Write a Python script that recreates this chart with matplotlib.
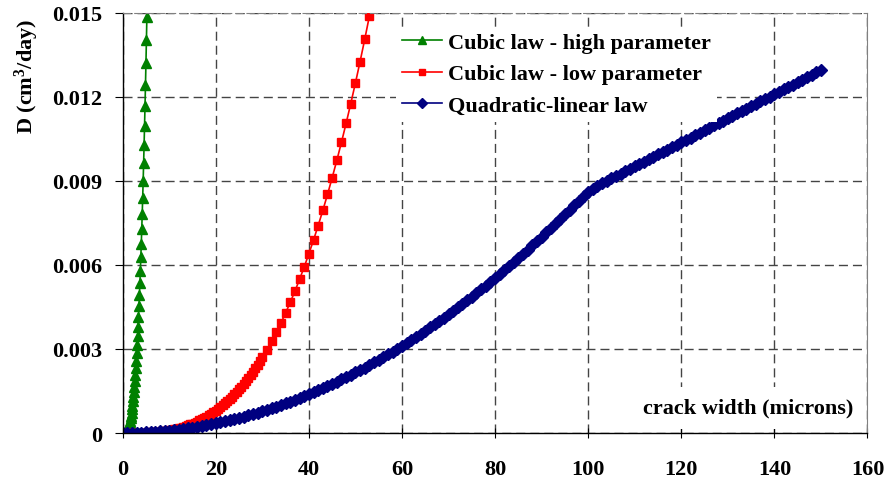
import matplotlib
matplotlib.use("Agg")
import matplotlib.pyplot as plt
import numpy as np

plt.rcParams['font.family'] = ['Liberation Serif', 'DejaVu Serif']
plt.rcParams['font.weight'] = 'bold'
plt.rcParams['font.size'] = 16

# D values below are in units of 1e-4 cm3/day
# cubic law, high parameter (crack width step 0.1 micron)
high_x = np.arange(0, 5.25, 0.1)
high_d = [0, 0.001, 0.008, 0.029, 0.068, 0.132, 0.228, 0.363, 0.541, 0.771,
          1.057, 1.407, 1.826, 2.322, 2.900, 3.567, 4.330, 5.193, 6.164, 7.250,
          8.456, 9.789, 11.255, 12.861, 14.612, 16.516, 18.578, 20.805, 23.203, 25.779,
          28.539, 31.489, 34.636, 37.985, 41.544, 45.319, 49.315, 53.540, 58.000, 62.700,
          67.648, 72.850, 78.311, 84.039, 90.039, 96.319, 102.884, 109.741, 116.896, 124.355,
          132.125, 140.212, 148.623]

# cubic law, low parameter: fine steps up to 30 microns, then 1 micron steps
low_x = list(np.arange(0, 30.5, 0.5)) + list(range(31, 54))
low_d = [0, 0.0001, 0.001, 0.0034, 0.008, 0.0156, 0.027, 0.0429, 0.064, 0.091,
         0.125, 0.166, 0.216, 0.275, 0.343, 0.422, 0.512, 0.614, 0.729, 0.857,
         1.0, 1.158, 1.331, 1.521, 1.728, 1.953, 2.197, 2.460, 2.744, 3.049,
         3.375, 3.724, 4.096, 4.492, 4.913, 5.359, 5.832, 6.332, 6.859, 7.415,
         8.0, 8.615, 9.261, 9.938, 10.648, 11.391, 12.167, 12.978, 13.824, 14.706,
         15.625, 16.581, 17.576, 18.610, 19.683, 20.797, 21.952, 23.149, 24.389, 25.672,
         27.0,
         29.79, 32.77, 35.94, 39.30, 42.88, 46.66, 50.65, 54.87, 59.32, 64.0,
         68.92, 74.09, 79.51, 85.18, 91.13, 97.34, 103.82, 110.59, 117.65, 125.0,
         132.65, 140.61, 148.88]

# quadratic-linear law, 1 micron steps
quad_x = np.arange(0, 151)
quad_d = [0, 0.009, 0.035, 0.078, 0.138, 0.216, 0.311, 0.424, 0.554, 0.701,
          0.865, 1.047, 1.246, 1.462, 1.695, 1.946, 2.214, 2.500, 2.803, 3.123,
          3.46, 3.815, 4.187, 4.576, 4.982, 5.406, 5.847, 6.306, 6.782, 7.275,
          7.785, 8.313, 8.858, 9.420, 9.999, 10.596, 11.210, 11.842, 12.491, 13.157,
          13.84, 14.541, 15.259, 15.994, 16.746, 17.516, 18.303, 19.108, 19.930, 20.769,
          21.625, 22.499, 23.390, 24.298, 25.223, 26.166, 27.126, 28.104, 29.099, 30.111,
          31.14, 32.187, 33.251, 34.332, 35.430, 36.546, 37.679, 38.830, 39.998, 41.183,
          42.385, 43.605, 44.842, 46.096, 47.367, 48.656, 49.962, 51.286, 52.627, 53.985,
          55.36, 56.753, 58.163, 59.590, 61.034, 62.496, 63.975, 65.472, 66.986, 68.517,
          70.065, 71.631, 73.214, 74.814, 76.431, 78.066, 79.718, 81.388, 83.0, 84.6,
          86.0, 87.2, 88.2, 89.1, 90.0, 90.9, 91.76, 92.62, 93.48, 94.34,
          95.2, 96.06, 96.92, 97.78, 98.64, 99.5, 100.36, 101.22, 102.08, 102.94,
          103.8, 104.66, 105.52, 106.38, 107.24, 108.1, 108.96, 109.82, 110.68, 111.54,
          112.4, 113.26, 114.12, 114.98, 115.84, 116.7, 117.56, 118.42, 119.28, 120.14,
          121.0, 121.86, 122.72, 123.58, 124.44, 125.3, 126.16, 127.02, 127.88, 128.74,
          129.6]

labels = ['Cubic law - high parameter', 'Cubic law - low parameter', 'Quadratic-linear law']
x_ticks = np.arange(0, 161, 20)
y_ticks = [0, 0.003, 0.006, 0.009, 0.012, 0.015]
y_tick_labels = ['0', '0.003', '0.006', '0.009', '0.012', '0.015']

fig = plt.figure(figsize=(8.87, 4.81), dpi=100)
ax = fig.add_axes([0.1383, 0.0977, 0.8397, 0.8733])

ax.plot(high_x, np.array(high_d) * 1e-4, color='#008000', marker='^', ms=6.5, lw=1.2,
        label=labels[0])
ax.plot(low_x, np.array(low_d) * 1e-4, color='#ff0000', marker='s', ms=5.5, lw=1.2,
        label=labels[1])
ax.plot(quad_x, np.array(quad_d) * 1e-4, color='#000080', marker='D', ms=6, lw=1.2,
        label=labels[2])

ax.set_xlim(0, 160)
ax.set_ylim(0, 0.015)
ax.set_xticks(x_ticks)
ax.set_yticks(y_ticks)
ax.set_yticklabels(y_tick_labels)

ax.set_axisbelow(True)
ax.grid(True, color='#444444', lw=1, linestyle=(0, (6.5, 3.6)))
ax.spines['top'].set_color('#808080')
ax.spines['top'].set_linestyle((0, (6.5, 3.6)))
ax.spines['right'].set_color('#808080')
ax.spines['left'].set_linewidth(1)
ax.spines['bottom'].set_linewidth(1)
ax.tick_params(axis='x', direction='inout', length=7, pad=15)
ax.tick_params(axis='y', direction='out', length=5.5, pad=9)

ax.text(-0.128, 0.852, r'D (cm$\mathregular{^3}$/day)', rotation=90,
        ha='center', va='center', transform=ax.transAxes)
ax.text(0.84, 0.06, 'crack width (microns)', ha='center', va='center',
        transform=ax.transAxes, zorder=3,
        bbox=dict(facecolor='white', edgecolor='none', pad=8))

leg = ax.legend(loc='upper left', bbox_to_anchor=(0.361, 0.978), frameon=True,
                handlelength=1.8, handletextpad=0.3, labelspacing=0.5,
                borderpad=0.25, borderaxespad=0.2, fancybox=False, markerscale=0.85)
leg.get_frame().set_edgecolor('none')
leg.get_frame().set_facecolor('white')
leg.get_frame().set_alpha(1)

fig.savefig('out.png', dpi=100)
